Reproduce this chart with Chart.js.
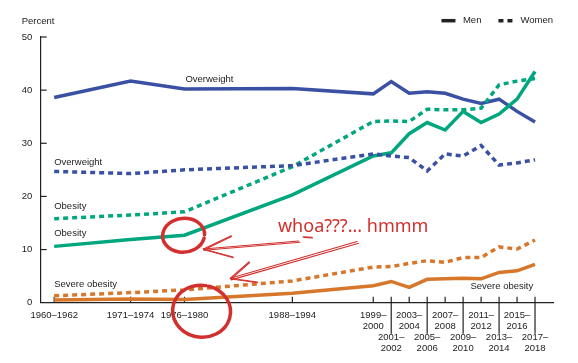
<!DOCTYPE html>
<html><head><meta charset="utf-8">
<script src="https://cdn.jsdelivr.net/npm/chart.js@4.4.0/dist/chart.umd.min.js"></script>
<style>html,body{margin:0;padding:0;background:#fff;}#wrap{width:578px;height:363px;position:relative;}</style>
</head><body><div id="wrap"><canvas id="c"></canvas></div>
<script>
// ---- data ----
const periods = ['1960–1962','1971–1974','1976–1980','1988–1994','1999–2000','2001–2002','2003–2004','2005–2006','2007–2008','2009–2010','2011–2012','2013–2014','2015–2016','2017–2018'];
const periodX = [1964.5,1973,1979,1991,2000,2002,2004,2006,2008,2010,2012,2014,2016,2018];
const menOverweight   = [38.6,41.7,40.2,40.3,39.3,41.6,39.4,39.7,39.4,38.3,37.5,38.3,36.0,34.0];
const womenOverweight = [24.7,24.3,25.0,25.8,28.0,27.6,27.3,24.8,28.0,27.6,29.6,25.9,26.3,26.9];
const menObesity      = [10.6,11.9,12.7,20.3,27.6,28.2,31.8,33.9,32.5,36.0,33.9,35.5,38.3,43.5];
const womenObesity    = [15.8,16.5,17.1,25.6,34.1,34.2,34.1,36.4,36.3,36.3,36.6,41.0,41.7,42.2];
const menSevere       = [0.5,0.7,0.6,1.8,3.2,4.0,2.9,4.4,4.5,4.6,4.5,5.7,6.0,7.2];
const womenSevere     = [1.3,1.9,2.4,4.1,6.7,6.8,7.4,7.9,7.6,8.5,8.5,10.5,10.1,11.8];
const yTicks = [0,10,20,30,40,50];
const legendNames = ['Men','Women'];
const yTitle = 'Percent';
const note = 'whoa???... hmmm';

// ---- styles ----
const FONT = "'Liberation Sans', Arial, sans-serif";
const TXT = '#222';
const BLUE = '#3A51A3', GREEN = '#00A67E', ORANGE = '#D6772B', RED = '#D2302E';
const DASH = [5,4];

const tickLabels = periods.map((p,i) => {
  if (i < 4) return p;
  const [a,b] = p.split('–');
  return (i-4)%2===0 ? [a+'–', b] : ['', '', a+'–', b];
});

function series(data, color, dashed){
  return {
    data: data.map((v,i)=>({x: periodX[i], y: v})),
    borderColor: color, backgroundColor: color,
    borderWidth: 3.5, borderDash: dashed ? DASH : [],
    pointRadius: 0, tension: 0, fill: false
  };
}

const seriesText = [
  {t:'Overweight', x:1979.1, y:42.1, a:'left'},
  {t:'Overweight', x:1964.5, y:26.5, a:'left'},
  {t:'Obesity', x:1964.5, y:18.1, a:'left'},
  {t:'Obesity', x:1964.5, y:13.1, a:'left'},
  {t:'Severe obesity', x:1964.5, y:3.5, a:'left'},
  {t:'Severe obesity', x:2017.8, y:3.0, a:'right'}
];

const decor = {
  id:'decor',
  beforeDatasetsDraw(chart){
    const {ctx, chartArea:ca, scales:{x,y}} = chart;
    ctx.save();
    ctx.strokeStyle = TXT; ctx.lineWidth = 1.2;
    yTicks.forEach(v=>{ if(v===0) return; const py=y.getPixelForValue(v);
      ctx.beginPath(); ctx.moveTo(ca.left,py); ctx.lineTo(ca.left+6,py); ctx.stroke(); });
    periodX.forEach((v,i)=>{ const px=x.getPixelForValue(v); const long = i>=5 && (i-5)%2===0;
      ctx.beginPath(); ctx.moveTo(px, ca.bottom-6); ctx.lineTo(px, long ? ca.bottom+31 : ca.bottom); ctx.stroke(); });
    ctx.restore();
  },
  afterDatasetsDraw(chart){
    const {ctx, chartArea:ca, scales:{x,y}} = chart;
    ctx.save();
    ctx.font = `9.5px ${FONT}`; ctx.fillStyle = TXT; ctx.textBaseline = 'middle';
    seriesText.forEach(s=>{ ctx.textAlign = s.a; ctx.fillText(s.t, x.getPixelForValue(s.x), y.getPixelForValue(s.y)); });
    // y title
    ctx.textAlign = 'left'; ctx.fillText(yTitle, 21.7, 21.7);
    // legend
    const ly = 20.7;
    const wWomen = ctx.measureText(legendNames[1]).width;
    const wMen = ctx.measureText(legendNames[0]).width;
    const womenX = ca.right - wWomen; const dashEnd = womenX - 8; const dashStart = dashEnd - 14;
    const menX = dashStart - 17 - wMen; const solEnd = menX - 7.5; const solStart = solEnd - 14;
    ctx.fillText(legendNames[0], menX, ly);
    ctx.fillText(legendNames[1], womenX, ly);
    ctx.strokeStyle = TXT; ctx.lineWidth = 3.5;
    ctx.beginPath(); ctx.moveTo(solStart, ly); ctx.lineTo(solEnd, ly); ctx.stroke();
    ctx.setLineDash(DASH);
    ctx.beginPath(); ctx.moveTo(dashStart, ly); ctx.lineTo(dashEnd, ly); ctx.stroke();
    ctx.restore();
  },
  afterDraw(chart){
    const {ctx, scales:{x,y}} = chart;
    const P = (a,b)=>[x.getPixelForValue(a), y.getPixelForValue(b)];
    ctx.save();
    ctx.strokeStyle = RED; ctx.fillStyle = RED; ctx.lineCap='round'; ctx.lineJoin='round';
    // circles
    ctx.lineWidth = 3.5;
    let [cx,cy] = P(1978.9, 12.7);
    ctx.beginPath(); ctx.ellipse(cx, cy, 21, 17, -0.1, 0.3, Math.PI*2+0.1); ctx.stroke();
    [cx,cy] = P(1980.9, -1.6);
    ctx.beginPath(); ctx.ellipse(cx, cy, 29, 26, 0.1, -1.4, Math.PI*2-1.5); ctx.stroke();
    // arrows
    ctx.lineWidth = 1.1;
    const line = (a,b,c,d,off)=>{ const [x1,y1]=P(a,b),[x2,y2]=P(c,d);
      ctx.beginPath(); ctx.moveTo(x1,y1); ctx.lineTo(x2,y2); ctx.stroke();
      ctx.beginPath(); ctx.moveTo(x1+off,y1+off); ctx.lineTo(x2+off*0.5,y2+off); ctx.stroke(); };
    // upper arrow
    line(1991.7, 11.6, 1981.1, 10.1, 1.2);
    line(1981.1, 10.1, 1984.2, 12.6, 0.8);
    line(1981.1, 10.1, 1984.4, 8.6, 0.8);
    line(1992.2, 12.4, 1993.2, 12.3, 0.6);
    // lower arrow
    line(1998.2, 11.5, 1984.1, 4.6, 1.6);
    line(1984.1, 4.6, 1986.2, 7.7, 0.8);
    line(1984.1, 4.6, 1987.1, 3.9, 0.8);
    // note text
    ctx.font = "18px 'Noto Sans', sans-serif";
    ctx.textAlign='left'; ctx.textBaseline='middle';
    const [tx,ty] = P(1989.4, 14.3);
    ctx.fillText(note, tx, ty);
    ctx.restore();
  }
};

new Chart(document.getElementById('c'), {
  type:'line',
  data:{ datasets:[
    series(menSevere, ORANGE, false),
    series(womenSevere, ORANGE, true),
    series(womenOverweight, BLUE, true),
    series(womenObesity, GREEN, true),
    series(menObesity, GREEN, false),
    series(menOverweight, BLUE, false)
  ]},
  options:{
    responsive:true, maintainAspectRatio:false, animation:false,
    layout:{padding:{left:0, right:25, top:37, bottom:0}},
    plugins:{legend:{display:false}, tooltip:{enabled:false}},
    scales:{
      x:{ type:'linear', min:1963, max:2020,
        afterBuildTicks: s=>{ s.ticks = periodX.map(v=>({value:v})); },
        afterFit: s=>{ s.height = 60.3; },
        grid:{display:false, drawTicks:false},
        border:{display:true, color:TXT, width:1.2},
        ticks:{autoSkip:false, maxRotation:0, minRotation:0, padding:7, color:TXT,
          font:{family:FONT, size:9.5, lineHeight:1.15},
          callback:(v,i)=>tickLabels[i]}
      },
      y:{ min:0, max:50,
        afterBuildTicks: s=>{ s.ticks = yTicks.map(v=>({value:v})); },
        afterFit: s=>{ s.width = 40.7; },
        grid:{display:false, drawTicks:false},
        border:{display:true, color:TXT, width:1.2},
        ticks:{padding:8.4, color:TXT, font:{family:FONT, size:9.5}}
      }
    }
  },
  plugins:[decor]
});
</script></body></html>
